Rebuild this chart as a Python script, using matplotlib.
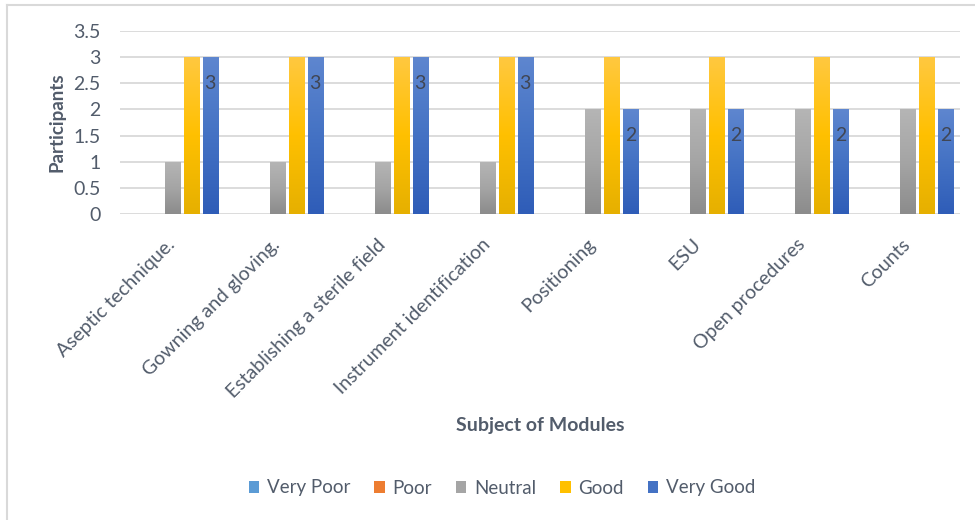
import matplotlib
matplotlib.use('Agg')
import matplotlib.pyplot as plt
import numpy as np
from matplotlib.colors import LinearSegmentedColormap
from matplotlib.patches import Rectangle
from matplotlib.lines import Line2D

# 모듈별 응답 데이터
modules = ['Aseptic technique.', 'Gowning and gloving.', 'Establishing a sterile field',
           'Instrument identification', 'Positioning', 'ESU', 'Open procedures', 'Counts']
ratings = ['Very Poor', 'Poor', 'Neutral', 'Good', 'Very Good']
very_poor = [0, 0, 0, 0, 0, 0, 0, 0]
poor = [0, 0, 0, 0, 0, 0, 0, 0]
neutral = [1, 1, 1, 1, 2, 2, 2, 2]
good = [3, 3, 3, 3, 3, 3, 3, 3]
very_good = [3, 3, 3, 3, 2, 2, 2, 2]

series = [very_poor, poor, neutral, good, very_good]
base_colors = ['#5B9BD5', '#ED7D31', '#A5A5A5', '#FFC000', '#4472C4']
# 그라데이션 (위, 가운데, 아래)
grads = [
    ['#7FB0DE', '#5B9BD5', '#4A8AC8'],
    ['#F29A5E', '#ED7D31', '#D86A20'],
    ['#B5B5B5', '#A5A5A5', '#8C8C8C'],
    ['#FFC83F', '#FFC000', '#E6B000'],
    ['#5E86CF', '#4472C4', '#2F5DB8'],
]

text_color = '#525C6B'
plt.rcParams['font.family'] = ['Lato', 'DejaVu Sans']

fig = plt.figure(figsize=(9.75, 5.2), dpi=100)
ax = fig.add_axes([120 / 975, 1 - 214 / 520, 840 / 975, 183 / 520])

x = np.arange(len(modules))
pitch = 0.18
width = 0.145

for k, (vals, g) in enumerate(zip(series, grads)):
    cmap = LinearSegmentedColormap.from_list('g%d' % k, [g[2], g[1], g[0]])
    offs = (k - 2) * pitch
    bars = ax.bar(x + offs, vals, width, color='none', edgecolor='none', label=ratings[k])
    for b, v in zip(bars, vals):
        if v <= 0:
            continue
        img = np.linspace(0, 1, 100).reshape(-1, 1)
        x0 = b.get_x()
        im = ax.imshow(img, extent=[x0, x0 + width, 0, v], origin='lower',
                       cmap=cmap, aspect='auto', zorder=2)
        im.set_clip_path(b)
    if k == 4:
        for xi, v in zip(x + offs, vals):
            ax.annotate(str(v), (xi, v), xytext=(0, -26), textcoords='offset pixels',
                        ha='center', va='center', fontsize=14, color='#404654', zorder=3)

ax.set_xlim(-0.5, len(modules) - 0.5)
ax.set_ylim(0, 3.5)
ax.set_yticks(np.arange(0, 3.51, 0.5))
ax.set_yticklabels(['0', '0.5', '1', '1.5', '2', '2.5', '3', '3.5'])
ax.yaxis.grid(True, color='#D9D9D9', linewidth=1.3)
ax.set_axisbelow(True)
for s in ax.spines.values():
    s.set_visible(False)
ax.tick_params(axis='y', length=0, pad=14, labelsize=14, labelcolor=text_color)
ax.set_xticks(x)
ax.set_xticklabels(modules, rotation=45, ha='right', va='center', rotation_mode='anchor')
ax.tick_params(axis='x', length=0, pad=20, labelsize=14, labelcolor=text_color)

fig.text(57 / 975, 1 - 122 / 520, 'Participants', rotation=90, ha='center', va='center',
         fontsize=13.5, fontweight='bold', color=text_color)
fig.text(540 / 975, 1 - 425 / 520, 'Subject of Modules', ha='center', va='center',
         fontsize=14, fontweight='bold', color=text_color)

handles = [Rectangle((0, 0), 1, 1, facecolor=c, edgecolor='none') for c in base_colors]
fig.legend(handles, ratings, loc='center', bbox_to_anchor=(502 / 975, 1 - 488 / 520),
           ncol=5, frameon=False, fontsize=13.5, handlelength=0.55, handleheight=0.55,
           handletextpad=0.4, columnspacing=1.3, labelcolor=text_color)

# 차트 테두리
fig.add_artist(Line2D([7 / 975, 7 / 975], [0, 1 - 5 / 520], color='#D9D9D9', lw=1.5))
fig.add_artist(Line2D([7 / 975, 1], [1 - 5 / 520, 1 - 5 / 520], color='#D9D9D9', lw=1.5))

fig.savefig('out.png', dpi=100)
